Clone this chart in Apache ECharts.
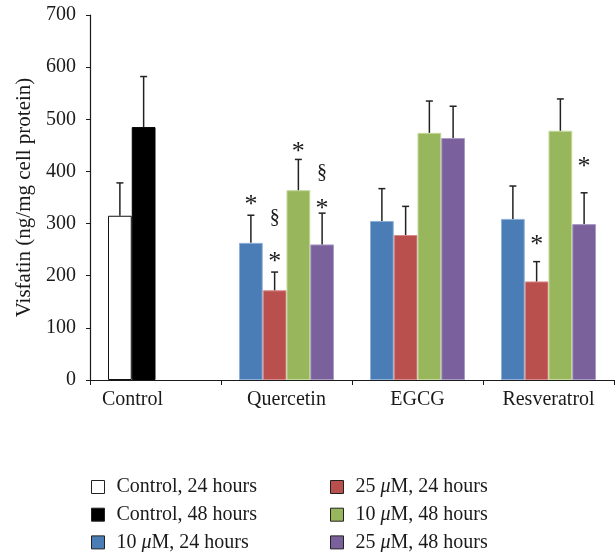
<!DOCTYPE html>
<html>
<head>
<meta charset="utf-8">
<script src="https://cdn.jsdelivr.net/npm/echarts@6/dist/echarts.min.js"></script>
<style>
  html, body { margin: 0; padding: 0; background: #fff; }
  #chart { width: 616px; height: 552px; }
</style>
</head>
<body>
<div id="chart"></div>
<script>
const categories = ['Control', 'Quercetin', 'EGCG', 'Resveratrol']
const yTicks = [0, 100, 200, 300, 400, 500, 600, 700]

// means and SD (ng/mg cell protein)
const ctrl24 = [315, '-', '-', '-']
const ctrl24Sd = [63, 0, 0, 0]
const ctrl48 = [485, '-', '-', '-']
const ctrl48Sd = [97, 0, 0, 0]
const low24 = ['-', 263, 305, 309]
const low24Sd = [0, 53, 62, 63]
const high24 = ['-', 172, 278, 189]
const high24Sd = [0, 35, 55, 38]
const low48 = ['-', 364, 474, 478]
const low48Sd = [0, 59, 61, 61]
const high48 = ['-', 260, 464, 299]
const high48Sd = [0, 60, 61, 60]

// significance symbols: [category index, bar slot, level, symbol]
const sigMarks = [
  [1, 0, 345, '*'],
  [1, 1, 311, '§'],
  [1, 1, 236, '*'],
  [1, 2, 447, '*'],
  [1, 3, 397, '§'],
  [1, 3, 338, '*'],
  [3, 1, 268, '*'],
  [3, 3, 418, '*']
]

const names = ['Control, 24 hours', 'Control, 48 hours', '10 μM, 24 hours',
  '25 μM, 24 hours', '10 μM, 48 hours', '25 μM, 48 hours']

const GAP = 0.275
const FONT = 'Liberation Serif'
const INK = '#1a1a1a'

const seriesDefs = [
  { name: names[0], data: ctrl24, sd: ctrl24Sd, slot: 0, color: '#ffffff', border: '#111' },
  { name: names[1], data: ctrl48, sd: ctrl48Sd, slot: 1, color: '#000000', border: '#000' },
  { name: names[2], data: low24, sd: low24Sd, slot: 0, color: '#4a7db6', border: '#8fb0d8' },
  { name: names[3], data: high24, sd: high24Sd, slot: 1, color: '#b9504d', border: '#d88a88' },
  { name: names[4], data: low48, sd: low48Sd, slot: 2, color: '#98b65b', border: '#c3d89a' },
  { name: names[5], data: high48, sd: high48Sd, slot: 3, color: '#7a619c', border: '#aa9bc4' }
]

const errData = []
seriesDefs.forEach((s) => {
  s.data.forEach((v, i) => {
    if (v !== '-') errData.push([i, v, s.sd[i], s.slot])
  })
})

const slotX = (api, cat, slot) => {
  const catW = api.size([1, 0])[0]
  const barW = catW * (1 - GAP) / 4
  return api.coord([cat, 0])[0] + (slot - 1.5) * barW
}

const fmt = (name) => name.replace('μ', '{it|μ}')

const mChart = echarts.init(document.getElementById('chart'))
const legendCommon = {
  orient: 'vertical',
  top: 477,
  height: 76,
  padding: 0,
  itemWidth: 13,
  itemHeight: 13,
  itemGap: 7.7,
  icon: 'rect',
  selectedMode: false,
  formatter: fmt,
  itemStyle: { borderColor: '#222', borderWidth: 1 },
  textStyle: {
    fontFamily: FONT, fontSize: 20, color: INK, lineHeight: 20, padding: [0, 0, 0, 7],
    rich: { it: { fontFamily: FONT, fontSize: 20, lineHeight: 20, fontStyle: 'italic', color: INK } }
  }
}

const options = {
  animation: false,
  backgroundColor: '#fff',
  textStyle: { fontFamily: FONT },
  legend: [
    Object.assign({ left: 91, data: names.slice(0, 3) }, legendCommon),
    Object.assign({ left: 330, data: names.slice(3) }, legendCommon)
  ],
  grid: { left: 90, right: 2, top: 15, bottom: 172 },
  xAxis: {
    type: 'category',
    data: categories,
    axisLine: { lineStyle: { color: INK, width: 1.2 } },
    axisTick: { show: true, interval: 0, length: 5, lineStyle: { color: INK } },
    axisLabel: {
      interval: 0,
      hideOverlap: false,
      fontFamily: FONT,
      fontSize: 20,
      color: INK,
      margin: 10,
      // the Control label sits over its two bars, left of the band centre
      formatter: (v, i) => (i === 0 ? '{ctl|' + v + '}' : v),
      rich: { ctl: { fontFamily: FONT, fontSize: 20, color: INK, padding: [0, 46, 0, 0] } }
    }
  },
  yAxis: {
    type: 'value',
    min: yTicks[0],
    max: yTicks[yTicks.length - 1],
    interval: 100,
    name: 'Visfatin (ng/mg cell protein)',
    nameLocation: 'middle',
    nameGap: 49,
    nameTextStyle: { fontFamily: FONT, fontSize: 21, color: INK },
    splitLine: { show: false },
    axisLine: { show: true, lineStyle: { color: INK, width: 1.2 } },
    axisTick: { show: true, length: 4, lineStyle: { color: INK } },
    axisLabel: { fontFamily: FONT, fontSize: 20, color: INK, margin: 14 }
  },
  series: seriesDefs.map((s, k) => ({
    name: s.name,
    type: 'bar',
    stack: ['a', 'b', 'a', 'b', 'c', 'd'][k],
    data: s.data,
    barCategoryGap: (GAP * 100) + '%',
    barGap: '0%',
    itemStyle: { color: s.color, borderColor: s.border, borderWidth: 1 }
  })).concat([{
    type: 'custom',
    name: 'err',
    z: 5,
    data: errData,
    encode: { x: 0, y: 1 },
    renderItem(params, api) {
      const cat = api.value(0)
      const x = slotX(api, cat, api.value(3))
      const y1 = api.coord([cat, api.value(1)])[1]
      const y2 = api.coord([cat, api.value(1) + api.value(2)])[1]
      const style = { stroke: '#222', lineWidth: 1.5 }
      return {
        type: 'group',
        children: [
          { type: 'line', shape: { x1: x, y1: y1, x2: x, y2: y2 }, style },
          { type: 'line', shape: { x1: x - 3.5, y1: y2, x2: x + 3.5, y2: y2 }, style }
        ]
      }
    }
  }, {
    type: 'custom',
    name: 'sig',
    z: 6,
    data: sigMarks,
    encode: { x: 0, y: 2 },
    renderItem(params, api) {
      const cat = api.value(0)
      const x = slotX(api, cat, api.value(1))
      const y = api.coord([cat, api.value(2)])[1]
      const sym = sigMarks[params.dataIndex][3]
      const star = sym === '*'
      return {
        type: 'text',
        x: x,
        y: star ? y + 5 : y,
        style: {
          text: sym,
          fontFamily: FONT,
          fontSize: star ? 26 : 20,
          fill: INK,
          align: 'center',
          verticalAlign: 'middle'
        }
      }
    }
  }])
}
mChart.setOption(options)
</script>
</body>
</html>
